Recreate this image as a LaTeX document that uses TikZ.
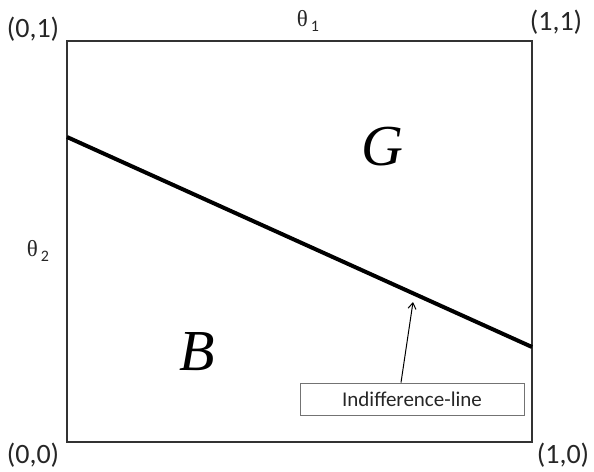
\documentclass[tikz,border=0pt]{standalone}
\usepackage{fontspec}
\setmainfont{Carlito}
\newfontfamily\greekserif{Liberation Serif}
\usetikzlibrary{arrows.meta}
\tikzset{
  corner/.style={font=\fontsize{28}{28}\selectfont, text=black!85, inner sep=0pt},
  thetalbl/.style={inner sep=0pt, text=black!85},
  region/.style={font=\fontsize{58}{58}\selectfont\greekserif\itshape, inner sep=0pt},
  frame/.style={draw=black!80, line width=2pt},
  indiff/.style={draw=black, line width=4pt},
  lblbox/.style={draw=black!55, line width=0.9pt, minimum width=224pt, minimum height=32pt, inner sep=0pt, font=\fontsize{21}{21}\selectfont, text=black!85},
  pointer/.style={draw=black, line width=1pt, -{Straight Barb[length=6pt,width=8pt]}}
}
\newcommand{\thetasub}[1]{{\fontsize{23}{23}\selectfont\greekserif θ}\hspace{3pt}\raisebox{-5pt}{\fontsize{16}{16}\selectfont #1}}
\begin{document}
\begin{tikzpicture}[x=1pt,y=-1pt]
\useasboundingbox (0,0) rectangle (594,471);
% frame
\coordinate (bl) at (67,442);
\coordinate (tr) at (532,41);
\draw[frame] (bl) rectangle (tr);
% indifference line
\coordinate (la) at (67,137);
\coordinate (lb) at (532,347);
\draw[indiff] (la) -- (lb);
% corner labels
\node[corner] (c01) at (33,29) {(0,1)};
\node[corner] (c11) at (556,22) {(1,1)};
\node[corner] (c00) at (33,455) {(0,0)};
\node[corner] (c10) at (563,455) {(1,0)};
% axis labels
\node[thetalbl] (t1) at (308,21) {\thetasub{1}};
\node[thetalbl] (t2) at (38,251) {\thetasub{2}};
% regions
\node[region] (G) at (382,147) {G};
\node[region] (B) at (197,352) {B};
% label box and pointer
\node[lblbox] (lbl) at (412,399) {Indifference-line};
\coordinate (tip) at (413,302);
\draw[pointer] ([xshift=-11pt]lbl.north) -- (tip);
\end{tikzpicture}
\end{document}
